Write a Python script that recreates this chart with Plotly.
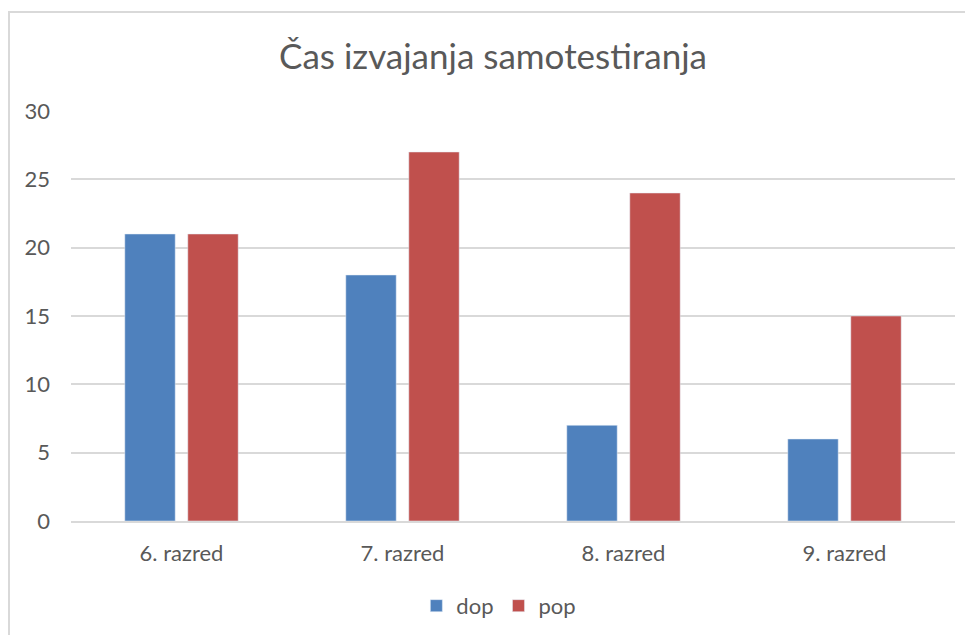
import plotly.graph_objects as go

categories = ["6. razred", "7. razred", "8. razred", "9. razred"]
dop = [21, 18, 7, 6]
pop = [21, 27, 24, 15]
y_ticks = [0, 5, 10, 15, 20, 25, 30]

text_color = "#595959"
font_family = "Lato, 'Open Sans', sans-serif"

# the page body adds 8px, so the margins are set 8px smaller
fig = go.Figure()
fig.add_trace(go.Bar(name="dop", x=categories, y=dop, marker=dict(color="#4F81BD")))
fig.add_trace(go.Bar(name="pop", x=categories, y=pop, marker=dict(color="#C0504D")))

fig.update_layout(
    width=973,
    height=635,
    paper_bgcolor="white",
    plot_bgcolor="white",
    barmode="group",
    bargap=0.43,
    bargroupgap=0.2,
    margin=dict(l=63, r=26, t=103, b=122),
    font=dict(family=font_family, color=text_color, size=22),
    title=dict(
        text="Čas izvajanja samotestiranja",
        x=485 / 973,
        xref="container",
        xanchor="center",
        y=1 - 49 / 635,
        yanchor="middle",
        font=dict(size=35, color=text_color),
    ),
    legend=dict(
        orientation="h",
        x=0.484,
        xanchor="center",
        y=-0.207,
        yanchor="middle",
        font=dict(size=22, color=text_color),
        itemwidth=30,
    ),
    xaxis=dict(
        showgrid=False,
        showline=True,
        linecolor="#d9d9d9",
        linewidth=2,
        ticks="",
        ticklabelstandoff=12,
    ),
    yaxis=dict(
        range=[0, 30],
        tickvals=y_ticks,
        gridcolor="#d9d9d9",
        gridwidth=1.5,
        zeroline=False,
        ticks="",
        ticklabelstandoff=20,
    ),
    shapes=[
        dict(
            type="rect",
            xref="paper",
            yref="paper",
            x0=(1 - 63) / 884,
            x1=1.2,
            y0=-0.6,
            y1=1 + 99 / 410,
            line=dict(color="#d9d9d9", width=2),
            fillcolor="rgba(0,0,0,0)",
            layer="below",
        )
    ],
)

fig.write_html("out.html")
